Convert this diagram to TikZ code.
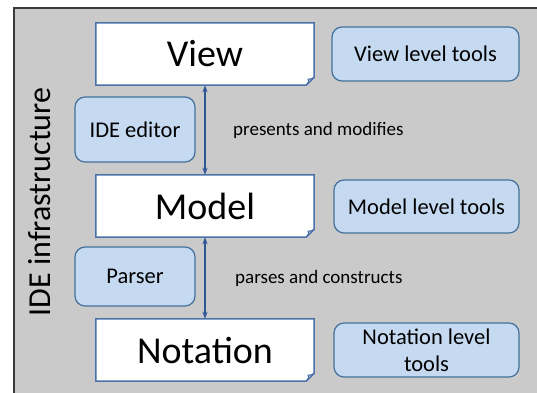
\documentclass[tikz,border=0pt]{standalone}
\usepackage{fontspec}
\setmainfont{Carlito}
\usetikzlibrary{arrows.meta}
\definecolor{bggrey}{HTML}{CACACA}
\definecolor{framec}{HTML}{3A3A3A}
\definecolor{boxline}{HTML}{4A72A8}
\definecolor{toolfill}{HTML}{C5D9F1}
\definecolor{toolline}{HTML}{41719C}
\definecolor{arrowc}{HTML}{2E5597}
\definecolor{foldc}{HTML}{D0D8E4}
\tikzset{
  docbox/.style={minimum width=218pt, minimum height=62pt, inner sep=0pt, font=\fontsize{38}{40}\selectfont},
  toolbox/.style={draw=toolline, fill=toolfill, line width=1.2pt, rounded corners=10pt, inner sep=0pt, align=center, font=\fontsize{22.5}{27}\selectfont},
  lbl/.style={anchor=west, inner sep=0pt, font=\fontsize{19}{20}\selectfont},
  arr/.style={arrowc, line width=1.3pt, {Stealth[length=7pt,width=5pt]}-{Stealth[length=7pt,width=5pt]}}
}
\newcommand{\docshape}[1]{%
  \draw[boxline, line width=1.5pt, fill=white] (#1.north west) -- (#1.north east) -- ([yshift=8pt]#1.south east) -- ([xshift=-8pt]#1.south east) -- (#1.south west) -- cycle;
  \draw[boxline, line width=1.2pt, fill=foldc] ([yshift=8pt]#1.south east) -- ([xshift=-8pt]#1.south east) .. controls ([xshift=-5pt,yshift=4pt]#1.south east) .. ([xshift=-6pt,yshift=6pt]#1.south east) .. controls ([xshift=-3pt,yshift=6pt]#1.south east) .. ([yshift=8pt]#1.south east);
}
\begin{document}
\begin{tikzpicture}[x=1pt,y=-1pt]
\useasboundingbox (0,0) rectangle (537,392);
\clip (0,0) rectangle (537,392);
\fill[white] (0,0) rectangle (537,392);
\draw[framec, fill=bggrey, line width=2pt] (14,8) rectangle (560,420);
\node[docbox] (view) at (205,54) {};
\node[docbox] (model) at (205,206) {};
\node[docbox] (notation) at (205,350) {};
\docshape{view}
\docshape{model}
\docshape{notation}
\node[docbox] at (view.center) {View};
\node[docbox] at (model.center) {Model};
\node[docbox] at (notation.center) {Notation};
\node[toolbox, minimum width=120pt, minimum height=65pt] (editor) at (135,129.5) {IDE editor};
\node[toolbox, minimum width=120pt, minimum height=59pt] (parser) at (135,276.5) {Parser};
\node[toolbox, minimum width=187pt, minimum height=54pt] (viewtools) at (425.5,54) {View level tools};
\node[toolbox, minimum width=185pt, minimum height=53pt] (modeltools) at (426.5,206.5) {Model level tools};
\node[toolbox, minimum width=185pt, minimum height=54pt] (nottools) at (426.5,350) {Notation level\\tools};
\draw[arr] (view.south) -- (model.north);
\draw[arr] (model.south) -- (notation.north);
\node[lbl] (pm) at (233,130) {presents and modifies};
\node[lbl] (pc) at (235,278) {parses and constructs};
\node[rotate=90, inner sep=0pt, font=\fontsize{32}{34}\selectfont] (infra) at (40,202) {IDE infrastructure};
\end{tikzpicture}
\end{document}
